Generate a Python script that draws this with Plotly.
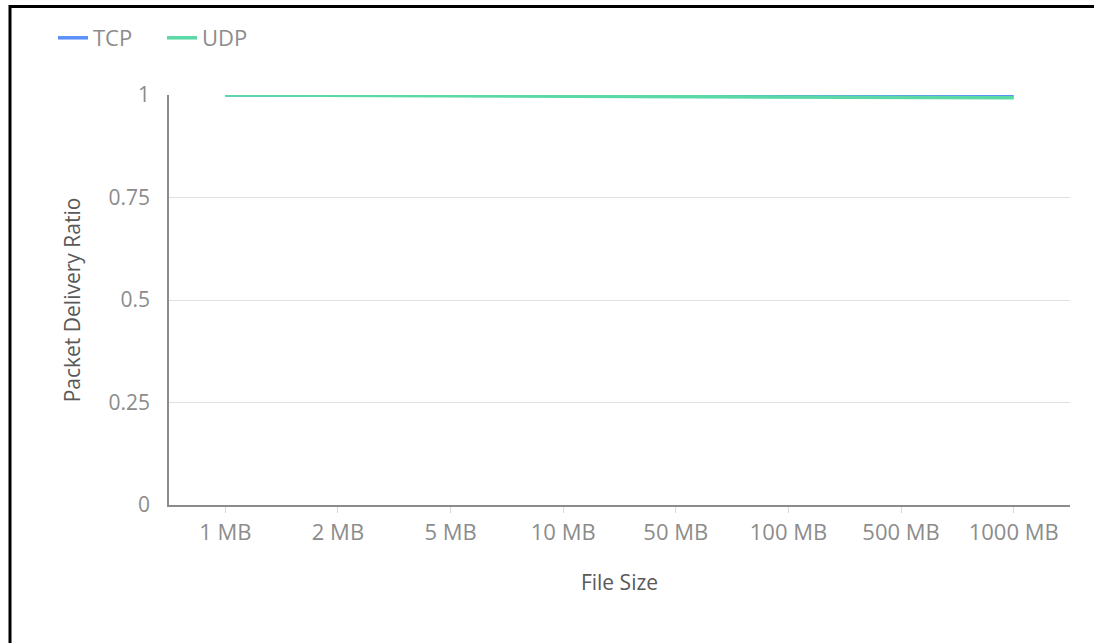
import plotly.graph_objects as go

categories = ["1 MB", "2 MB", "5 MB", "10 MB", "50 MB", "100 MB", "500 MB", "1000 MB"]
tcp_values = [1.0, 1.0, 1.0, 1.0, 0.999, 0.999, 0.998, 0.998]
udp_values = [1.0, 0.999, 0.999, 0.998, 0.997, 0.996, 0.995, 0.993]
y_ticks = [0, 0.25, 0.5, 0.75, 1]
y_tick_labels = ["0", "0.25", "0.5", "0.75", "1"]

OFF = 0  # page body margin removed below
W, H = 1094, 643
# desired plot area in screen coordinates
SX0, SX1, SY0, SY1 = 169, 1070, 95, 505
L = SX0 - OFF
T = SY0 - OFF
pw = SX1 - SX0
ph = SY1 - SY0
R = W - L - pw
B = H - T - ph


def px(sx):
    return (sx - OFF - L) / pw


def py(sy):
    return (T + ph - (sy - OFF)) / ph


fig = go.Figure()
fig.add_trace(go.Scatter(x=categories, y=tcp_values, name="TCP", mode="lines",
                         line=dict(color="#5B8FF9", width=3.5)))
fig.add_trace(go.Scatter(x=categories, y=udp_values, name="UDP", mode="lines",
                         line=dict(color="#5AD8A6", width=3.5)))

font_family = "Open Sans, Noto Sans, sans-serif"

fig.update_layout(
    width=W, height=H,
    margin=dict(l=L, r=R, t=T, b=B, autoexpand=False),
    paper_bgcolor="white", plot_bgcolor="white",
    font=dict(family=font_family, size=20, color="#8c8c8c"),
    showlegend=True,
    legend=dict(orientation="h", x=px(53), y=py(38), xanchor="left", yanchor="middle",
                font=dict(size=22, color="#8c8c8c"),
                entrywidth=64, entrywidthmode="pixels",
                bgcolor="rgba(0,0,0,0)"),
    xaxis=dict(
        type="category", range=[-0.5, 7.5],
        showline=True, linecolor="#8c8c8c", linewidth=1.5,
        ticks="outside", ticklen=6, tickcolor="#d9d9d9", tickwidth=1,
        showgrid=False, zeroline=False,
        tickfont=dict(size=22, color="#8c8c8c"),
        ticklabelstandoff=1,
        title=dict(text="File Size", font=dict(size=21, color="#595959"), standoff=30),
    ),
    yaxis=dict(
        range=[0, 1], tickvals=y_ticks, ticktext=y_tick_labels,
        showline=True, linecolor="#8c8c8c", linewidth=1.5,
        showgrid=True, gridcolor="#e0e0e0", gridwidth=1,
        zeroline=False, ticks="",
        tickfont=dict(size=21, color="#8c8c8c"),
        ticklabelstandoff=13,
        title=dict(text="Packet Delivery Ratio", font=dict(size=21, color="#595959"), standoff=22),
    ),
    shapes=[
        dict(type="path", xref="paper", yref="paper",
             path=f"M {px(10)} {py(660)} L {px(10)} {py(6.5)} L {px(1110)} {py(6.5)}",
             line=dict(color="black", width=3), layer="above"),
    ],
)

fig.write_html("out.html", config={"displayModeBar": False},
               post_script="document.body.style.margin='0';")
